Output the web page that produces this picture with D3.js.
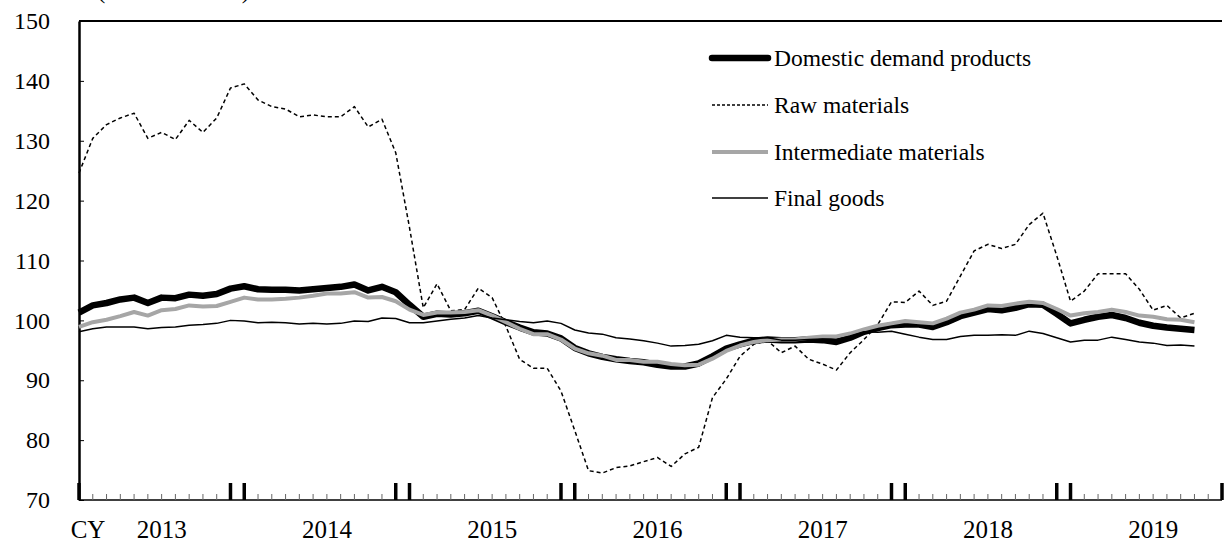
<!DOCTYPE html>
<html>
<head>
<meta charset="utf-8">
<script src="https://cdn.jsdelivr.net/npm/d3@7"></script>
<style>
  body { margin: 0; background: #fff; }
  svg text { font-family: "Liberation Serif", "DejaVu Serif", serif; fill: #000; }
</style>
</head>
<body>
<svg id="chart" width="1225" height="542"></svg>
<script>
// monthly, Jan 2013 - Oct 2019 (index 0 = Jan 2013)
var years = ["2013", "2014", "2015", "2016", "2017", "2018", "2019"];
var yTicks = [70, 80, 90, 100, 110, 120, 130, 140, 150];

var domestic = [101.3, 102.5, 102.9, 103.5, 103.8, 102.9, 103.8, 103.7, 104.3, 104.1, 104.4, 105.3,
  105.7, 105.2, 105.1, 105.1, 105.0, 105.2, 105.4, 105.6, 106.0, 105.0, 105.6, 104.7,
  102.6, 100.6, 101.1, 101.0, 101.2, 101.6, 100.7, 99.7, 98.8, 98.0, 97.8, 97.0,
  95.4, 94.5, 93.9, 93.5, 93.2, 93.0, 92.6, 92.3, 92.3, 92.8, 94.0, 95.3,
  96.0, 96.6, 96.8, 96.7, 96.7, 96.8, 96.7, 96.4, 97.1, 98.1, 98.7, 99.2,
  99.3, 99.3, 98.9, 99.7, 100.7, 101.3, 101.9, 101.7, 102.1, 102.7, 102.6, 101.1,
  99.5, 100.1, 100.6, 100.9, 100.4, 99.6, 99.1, 98.8, 98.6, 98.4];

var raw = [124.6, 130.4, 132.7, 133.8, 134.6, 130.4, 131.4, 130.2, 133.4, 131.4, 133.8, 138.8,
  139.5, 136.8, 135.7, 135.3, 134.0, 134.3, 134.0, 134.0, 135.7, 132.3, 133.6, 128.0,
  115.5, 102.1, 106.1, 101.6, 101.8, 105.4, 103.8, 99.0, 93.5, 92.0, 92.0, 88.2,
  81.6, 74.9, 74.5, 75.4, 75.7, 76.4, 77.1, 75.6, 77.7, 78.8, 87.1, 90.2,
  94.0, 96.0, 96.6, 94.6, 95.7, 93.5, 92.7, 91.7, 94.6, 96.8, 99.3, 103.1,
  103.0, 104.9, 102.5, 103.2, 107.4, 111.6, 112.7, 112.0, 112.7, 116.0, 117.9, 110.8,
  103.2, 104.9, 107.8, 107.8, 107.8, 105.2, 101.7, 102.5, 100.4, 101.2];

var intermediate = [98.9, 99.7, 100.1, 100.7, 101.4, 100.8, 101.7, 101.9, 102.5, 102.3, 102.4, 103.1,
  103.8, 103.5, 103.5, 103.6, 103.8, 104.1, 104.5, 104.5, 104.7, 103.8, 103.9, 103.2,
  101.8, 100.9, 101.3, 101.3, 101.4, 101.7, 100.8, 99.7, 98.6, 97.7, 97.7, 96.8,
  95.3, 94.5, 94.1, 93.4, 93.4, 93.1, 93.1, 92.7, 92.5, 92.6, 93.6, 94.9,
  95.8, 96.4, 96.7, 96.8, 96.8, 97.1, 97.3, 97.3, 97.8, 98.5, 99.1, 99.5,
  99.9, 99.7, 99.5, 100.3, 101.3, 101.8, 102.5, 102.4, 102.8, 103.1, 102.9, 101.9,
  100.8, 101.2, 101.4, 101.8, 101.4, 100.8, 100.6, 100.2, 100.1, 99.7];

var finalGoods = [98.1, 98.6, 98.9, 98.9, 98.9, 98.6, 98.8, 98.9, 99.2, 99.3, 99.5, 100.0,
  99.9, 99.6, 99.7, 99.6, 99.4, 99.5, 99.4, 99.5, 99.9, 99.8, 100.4, 100.3,
  99.6, 99.6, 99.9, 100.2, 100.4, 100.8, 100.4, 100.1, 99.8, 99.6, 99.9, 99.5,
  98.4, 97.9, 97.7, 97.1, 96.9, 96.6, 96.2, 95.7, 95.8, 96.0, 96.6, 97.5,
  97.2, 97.1, 97.1, 96.7, 96.7, 96.8, 96.9, 96.8, 97.4, 98.1, 98.0, 98.2,
  97.7, 97.2, 96.8, 96.8, 97.3, 97.5, 97.5, 97.6, 97.5, 98.2, 97.8, 97.1,
  96.4, 96.7, 96.7, 97.2, 96.8, 96.4, 96.2, 95.8, 95.9, 95.7];

var seriesNames = ["Domestic demand products", "Raw materials", "Intermediate materials", "Final goods"];

(function drawChart() {
  var svg = d3.select("#chart");
  var left = 79, right = 1222, plotTop = 21, bottom = 500;
  var nMonths = years.length * 12; // Jan 2013 .. Dec 2019

  var x = d3.scaleLinear().domain([0, nMonths - 1]).range([left, right]);
  var y = d3.scaleLinear().domain([70, 150]).range([bottom, plotTop]);

  var styles = [
    { data: domestic, color: "#000", width: 6.5, dash: null },
    { data: raw, color: "#000", width: 1.5, dash: "4,3" },
    { data: intermediate, color: "#a6a6a6", width: 4, dash: null },
    { data: finalGoods, color: "#000", width: 1.5, dash: null }
  ];

  // frame: top border
  svg.append("line")
    .attr("x1", left).attr("x2", right)
    .attr("y1", plotTop).attr("y2", plotTop)
    .attr("stroke", "#000").attr("stroke-width", 2);

  // y axis
  var yAxis = d3.axisLeft(y).tickValues(yTicks).tickSizeInner(-5).tickSizeOuter(0).tickPadding(29);
  var yg = svg.append("g").attr("transform", "translate(" + left + ",0)").call(yAxis);
  yg.select(".domain").attr("stroke-width", 2.5);
  yg.selectAll(".tick line").attr("stroke-width", 1);
  yg.selectAll("text").attr("font-size", 24).attr("font-family", null);

  // x axis line
  svg.append("line")
    .attr("x1", left).attr("x2", right)
    .attr("y1", bottom).attr("y2", bottom)
    .attr("stroke", "#000").attr("stroke-width", 1.5);

  // month ticks: thick at Dec/Jan boundaries and both ends
  var months = d3.range(nMonths);
  function isMajor(i) { return i === 0 || i === nMonths - 1 || i % 12 === 0 || i % 12 === 11; }
  svg.selectAll(".mtick")
    .data(months)
    .enter()
    .append("line")
    .attr("class", "mtick")
    .attr("x1", function(d) { return x(d); })
    .attr("x2", function(d) { return x(d); })
    .attr("y1", function(d) { return isMajor(d) ? bottom - 17 : bottom - 6; })
    .attr("y2", bottom)
    .attr("stroke", function(d) { return isMajor(d) ? "#000" : "#666"; })
    .attr("stroke-width", function(d) { return isMajor(d) ? 3.5 : 1; });

  // year labels
  svg.selectAll(".ylab")
    .data(years)
    .enter()
    .append("text")
    .attr("class", "ylab")
    .attr("x", function(d, i) { return x(i * 12 + 6); })
    .attr("y", 538)
    .attr("text-anchor", "middle")
    .attr("font-size", 25)
    .text(function(d) { return d; });

  svg.append("text")
    .attr("x", 88).attr("y", 538)
    .attr("text-anchor", "middle")
    .attr("font-size", 25)
    .text("CY");

  // unit note, mostly above the visible area as in the source
  svg.append("text")
    .attr("x", 97).attr("y", -2)
    .attr("font-size", 25)
    .text("(CY2015=100)");

  // series lines
  var line = d3.line()
    .x(function(d, i) { return x(i); })
    .y(function(d) { return y(d); });

  svg.selectAll(".series")
    .data(styles)
    .enter()
    .append("path")
    .attr("class", "series")
    .attr("fill", "none")
    .attr("stroke", function(d) { return d.color; })
    .attr("stroke-width", function(d) { return d.width; })
    .attr("stroke-dasharray", function(d) { return d.dash; })
    .attr("stroke-linejoin", "round")
    .attr("d", function(d) { return line(d.data); });

  // legend
  var legendY = [58, 105, 152, 198];
  var lg = svg.selectAll(".leg")
    .data(styles)
    .enter()
    .append("g")
    .attr("class", "leg")
    .attr("transform", function(d, i) { return "translate(712," + legendY[i] + ")"; });

  lg.append("line")
    .attr("x1", 0).attr("x2", 56)
    .attr("y1", 0).attr("y2", 0)
    .attr("stroke", function(d) { return d.color; })
    .attr("stroke-width", function(d) { return d.width; })
    .attr("stroke-dasharray", function(d, i) { return i === 1 ? "3,2" : d.dash; })
    .attr("stroke-linecap", function(d, i) { return i === 0 ? "round" : "butt"; });

  lg.append("text")
    .attr("x", 62)
    .attr("y", 0)
    .attr("dy", "0.33em")
    .attr("font-size", 23.5)
    .text(function(d, i) { return seriesNames[i]; });
})();
</script>
</body>
</html>
